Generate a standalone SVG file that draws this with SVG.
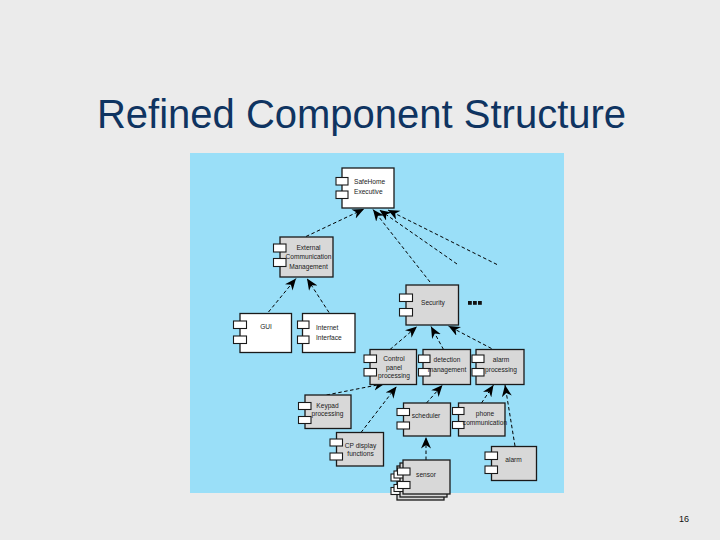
<svg xmlns="http://www.w3.org/2000/svg" width="720" height="540" viewBox="0 0 720 540">
<defs>
<marker id="ah" markerUnits="userSpaceOnUse" markerWidth="13" markerHeight="11" refX="11.5" refY="5" orient="auto">
<path d="M0,0 L11.5,5 L0,10 L3.5,5 Z" fill="#000"/>
</marker>
</defs>
<style>
.box{stroke:#1a1a1a;stroke-width:1.3}
.w{fill:#ffffff}
.g{fill:#d8d8d8}
.port{fill:#ffffff;stroke:#1a1a1a;stroke-width:1.1}
.t{font-family:"Liberation Sans",Arial,sans-serif;font-size:6.6px;fill:#1a1a1a}
.c{text-anchor:middle}
.conn{fill:none;stroke:#000;stroke-width:1;stroke-dasharray:3.5,2.5;marker-end:url(#ah)}
</style>
<rect x="0" y="0" width="720" height="540" fill="#ebebeb"/>
<text x="361.5" y="128" text-anchor="middle" font-family="Liberation Sans,Arial,sans-serif" font-size="40" fill="#0f3461">Refined Component Structure</text>
<rect x="190" y="153" width="374" height="340" fill="#9adff8"/>

<g id="connectors">
<line class="conn" x1="306" y1="236.5" x2="364" y2="209"/>
<line class="conn" x1="430" y1="282" x2="373" y2="209.5"/>
<line class="conn" x1="457" y1="264" x2="379.5" y2="210"/>
<line class="conn" x1="497" y1="264.5" x2="388" y2="210"/>
<line class="conn" x1="268.5" y1="312" x2="296" y2="278.5"/>
<line class="conn" x1="329" y1="312.5" x2="307" y2="278.5"/>
<line class="conn" x1="390" y1="349.5" x2="417" y2="326.5"/>
<line class="conn" x1="443.5" y1="349.5" x2="431" y2="326.5"/>
<line class="conn" x1="491.5" y1="348.5" x2="448.5" y2="326"/>
<line class="conn" x1="326.5" y1="395" x2="385" y2="383.5"/>
<line class="conn" x1="361" y1="432.5" x2="396.5" y2="386.5"/>
<line class="conn" x1="426.5" y1="403" x2="442.5" y2="385"/>
<line class="conn" x1="481.5" y1="403" x2="493.5" y2="385"/>
<line class="conn" x1="515" y1="446" x2="505" y2="385"/>
<line class="conn" x1="426" y1="460" x2="426" y2="437"/>
</g>

<g id="safehome">
<rect class="box w" x="342" y="168" width="52" height="40"/>
<rect class="port" x="336" y="177.5" width="12" height="7.5"/>
<rect class="port" x="336" y="191" width="12" height="7.5"/>
<text class="t" x="354" y="183.5">SafeHome</text>
<text class="t" x="354" y="193.5">Executive</text>
</g>

<g id="ecm">
<rect class="box g" x="280" y="237" width="53" height="40"/>
<rect class="port" x="273.5" y="244" width="12.5" height="8"/>
<rect class="port" x="273.5" y="258.5" width="12.5" height="8"/>
<text class="t c" x="308.5" y="249.5">External</text>
<text class="t c" x="308.5" y="259">Communication</text>
<text class="t c" x="308.5" y="268.5">Management</text>
</g>

<g id="gui">
<rect class="box w" x="240" y="313.5" width="51.5" height="39"/>
<rect class="port" x="233.5" y="321" width="13" height="7.5"/>
<rect class="port" x="233.5" y="336" width="13" height="7.5"/>
<text class="t c" x="266" y="329">GUI</text>
</g>

<g id="internet">
<rect class="box w" x="302.5" y="313.5" width="52.5" height="39"/>
<rect class="port" x="297.5" y="321" width="11.5" height="7.5"/>
<rect class="port" x="297.5" y="336" width="11.5" height="7.5"/>
<text class="t" x="316" y="329.5">Internet</text>
<text class="t" x="316" y="339.5">Interface</text>
</g>

<g id="security">
<rect class="box g" x="406" y="285" width="52.5" height="40"/>
<rect class="port" x="399.5" y="294" width="13" height="7.5"/>
<rect class="port" x="399.5" y="308.5" width="13" height="7.5"/>
<text class="t" x="421" y="305">Security</text>
<rect x="468" y="301" width="3.8" height="3.8" fill="#111"/>
<rect x="473" y="301" width="3.8" height="3.8" fill="#111"/>
<rect x="478" y="301" width="3.8" height="3.8" fill="#111"/>
</g>

<g id="control">
<rect class="box g" x="370" y="349.5" width="46.5" height="35"/>
<rect class="port" x="364" y="355" width="12.5" height="7.5"/>
<rect class="port" x="364" y="368.5" width="12.5" height="7.5"/>
<text class="t c" x="394" y="361">Control</text>
<text class="t c" x="394" y="369.5">panel</text>
<text class="t c" x="394" y="378">processing</text>
</g>

<g id="detection">
<rect class="box g" x="423" y="349.5" width="47.5" height="35"/>
<rect class="port" x="418.5" y="355" width="11.5" height="7.5"/>
<rect class="port" x="418.5" y="368.5" width="11.5" height="7.5"/>
<text class="t c" x="447" y="362">detection</text>
<text class="t c" x="447" y="371.5">management</text>
</g>

<g id="alarmproc">
<rect class="box g" x="476" y="349.5" width="48" height="35"/>
<rect class="port" x="472" y="355" width="12" height="7.5"/>
<rect class="port" x="472" y="368.5" width="12" height="7.5"/>
<text class="t c" x="501" y="362">alarm</text>
<text class="t c" x="501" y="371.5">processing</text>
</g>

<g id="keypad">
<rect class="box g" x="305" y="395" width="46" height="33.5"/>
<rect class="port" x="298.5" y="402.5" width="12.5" height="7"/>
<rect class="port" x="298.5" y="416.5" width="12.5" height="7"/>
<text class="t c" x="327.5" y="407.5">Keypad</text>
<text class="t c" x="327.5" y="415.5">processing</text>
</g>

<g id="cpdisplay">
<rect class="box g" x="336.5" y="432.5" width="47" height="33.5"/>
<rect class="port" x="330" y="439" width="12.5" height="7"/>
<rect class="port" x="330" y="453" width="12.5" height="7"/>
<text class="t c" x="360.5" y="448">CP display</text>
<text class="t c" x="360.5" y="456">functions</text>
</g>

<g id="scheduler">
<rect class="box g" x="403.5" y="403" width="47" height="33"/>
<rect class="port" x="397" y="408.5" width="12.5" height="7"/>
<rect class="port" x="397" y="422" width="12.5" height="7"/>
<text class="t c" x="426" y="417.5">scheduler</text>
</g>

<g id="phone">
<rect class="box g" x="458.5" y="403" width="46.5" height="33"/>
<rect class="port" x="452.5" y="407.5" width="11.5" height="7"/>
<rect class="port" x="452.5" y="421.5" width="11.5" height="7"/>
<text class="t c" x="485" y="415.5">phone</text>
<text class="t c" x="485" y="424.5">communication</text>
</g>

<g id="alarm">
<rect class="box g" x="491.5" y="446.5" width="45" height="34"/>
<rect class="port" x="485" y="452" width="12.5" height="7.5"/>
<rect class="port" x="485" y="466" width="12.5" height="7.5"/>
<text class="t c" x="513.5" y="461.5">alarm</text>
</g>

<g id="sensor">
<rect class="box g" x="397" y="466" width="47" height="34"/>
<rect class="port" x="391" y="474" width="12.5" height="7"/>
<rect class="port" x="391" y="487.5" width="12.5" height="7"/>
<rect class="box g" x="400" y="463" width="47" height="34"/>
<rect class="port" x="394" y="471" width="12.5" height="7"/>
<rect class="port" x="394" y="484.5" width="12.5" height="7"/>
<rect class="box g" x="403" y="460" width="47" height="34"/>
<rect class="port" x="397.5" y="468" width="12.5" height="7"/>
<rect class="port" x="397.5" y="481.5" width="12.5" height="7"/>
<text class="t c" x="426" y="476.5">sensor</text>
</g>

<text x="684" y="522" text-anchor="middle" font-family="Liberation Sans,Arial,sans-serif" font-size="9" fill="#111">16</text>
</svg>
